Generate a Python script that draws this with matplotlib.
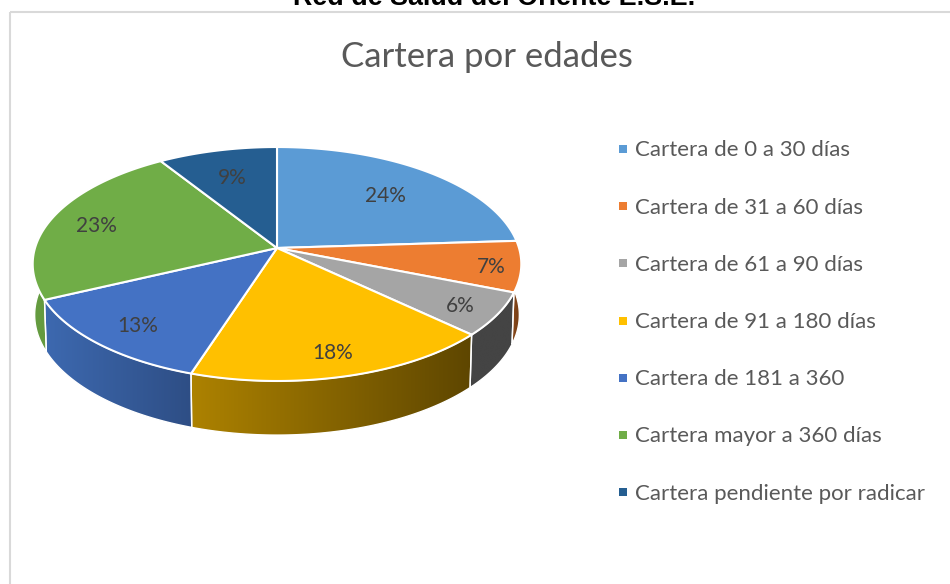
import numpy as np
from matplotlib import pyplot as plt
from matplotlib.colors import LinearSegmentedColormap
from matplotlib.patches import Polygon, Rectangle

TITLE = 'Cartera por edades'
HEADER = 'Red de Salud del Oriente E.S.E.'

CATEGORIES = [
    'Cartera de 0 a 30 días',
    'Cartera de 31 a 60 días',
    'Cartera de 61 a 90 días',
    'Cartera de 91 a 180 días',
    'Cartera de 181 a 360',
    'Cartera mayor a 360 días',
    'Cartera pendiente por radicar',
]
VALUES = [24, 7, 6, 18, 13, 23, 9]

COLORS = ['#5B9BD5', '#ED7D31', '#A5A5A5', '#FFC000', '#4472C4', '#70AD47', '#255E91']
SIDE_LEFT = ['#3A6A96', '#8A4A1C', '#444444', '#AD8200', '#3D69B0', '#659C40', '#1C4A73']
SIDE_RIGHT = ['#3A6A96', '#6E3A14', '#444444', '#5E4600', '#2E4E85', '#5A8C38', '#1C4A73']
LABEL_R = [0.70, 0.88, 0.84, 0.82, 0.80, 0.80, 0.72]

# pie projected in pixel coordinates, k gives the perspective
CX, CY = 277.0, 248.0
RX, RY = 242.0, 114.8
K = 0.1368


def project(theta, r=1.0):
    s = 1 / (1 + K * r * np.cos(theta))
    return CX + RX * r * np.sin(theta) * s, CY - RY * r * np.cos(theta) * s


def lower(x, y):
    # same point on the bottom rim of the pie
    return CX + (x - CX) * 0.992, y + 50.5 + 0.027 * (y - CY)


fig = plt.figure(figsize=(9.5, 5.84), dpi=100)
ax = fig.add_axes([0, 0, 1, 1])
ax.set_xlim(0, 950)
ax.set_ylim(584, 0)
ax.axis('off')

ax.add_patch(Rectangle((9.5, 11.5), 1000, 1000, fill=False, edgecolor='#D9D9D9', linewidth=1.5))

fracs = np.array(VALUES) / sum(VALUES)
edges = np.concatenate([[0], np.cumsum(fracs)]) * 2 * np.pi

# sides first, the top faces cover whatever is behind
for i in range(len(VALUES)):
    th = np.linspace(edges[i], edges[i + 1], 80)
    x, y = project(th)
    xb, yb = lower(x, y)
    pts = np.column_stack([np.concatenate([x, xb[::-1]]), np.concatenate([y, yb[::-1]])])
    cmap = LinearSegmentedColormap.from_list('side', [SIDE_LEFT[i], SIDE_RIGHT[i]])
    poly = Polygon(pts, closed=True, transform=ax.transData, facecolor='none', edgecolor='none')
    ax.add_patch(poly)
    im = ax.imshow(np.linspace(0, 1, 256).reshape(1, -1), cmap=cmap, aspect='auto', zorder=2,
                   extent=[pts[:, 0].min(), pts[:, 0].max(), pts[:, 1].max(), pts[:, 1].min()])
    im.set_clip_path(poly)
    ax.add_patch(Polygon(pts, closed=True, fill=False, edgecolor='white', linewidth=1.0, zorder=3))

ax.set_xlim(0, 950)
ax.set_ylim(584, 0)

for i in range(len(VALUES)):
    th = np.linspace(edges[i], edges[i + 1], 80)
    x, y = project(th)
    pts = np.column_stack([np.concatenate([[CX], x]), np.concatenate([[CY], y])])
    ax.add_patch(Polygon(pts, closed=True, facecolor=COLORS[i], edgecolor='white', linewidth=1.5,
                         joinstyle='round', zorder=4))
    lx, ly = project((edges[i] + edges[i + 1]) / 2, LABEL_R[i])
    ax.text(lx, ly + 3, f'{VALUES[i]}%', ha='center', va='center', fontsize=15,
            family='Lato', color='#404040', zorder=5)

ax.text(494, 5, HEADER, ha='center', va='baseline', fontsize=19.4, fontweight='bold',
        family='Liberation Sans', color='black')
ax.text(487, 57, TITLE, ha='center', va='center', fontsize=25, family='Lato', color='#595959')

legend_y = np.linspace(149, 492, len(CATEGORIES))
for i, name in enumerate(CATEGORIES):
    ax.add_patch(Rectangle((619, legend_y[i] - 4), 8, 8, facecolor=COLORS[i], edgecolor='none'))
    ax.text(635, legend_y[i] + 1.5, name, ha='left', va='center', fontsize=16,
            family='Lato', color='#595959')

plt.savefig('out.png', dpi=100)
